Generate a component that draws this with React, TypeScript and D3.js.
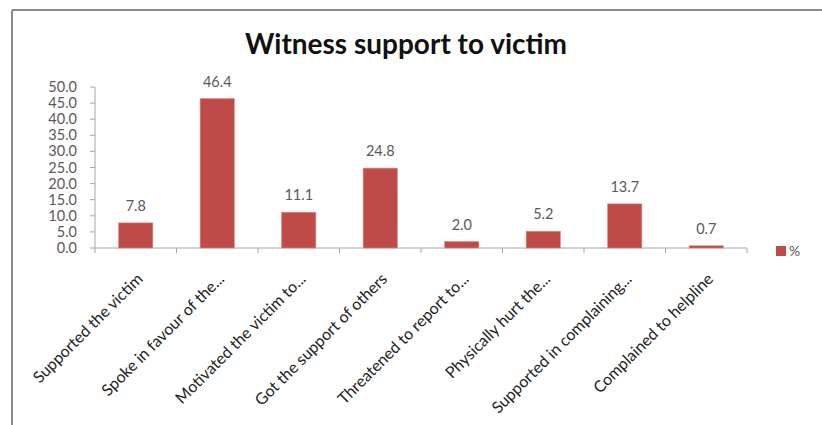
import React from "react";
import * as d3 from "d3";

const categories = [
  "Supported the victim",
  "Spoke in favour of the...",
  "Motivated the victim to...",
  "Got the support of others",
  "Threatened to report to...",
  "Physically hurt the...",
  "Supported in complaining...",
  "Complained to helpline",
];
const values = [7.8, 46.4, 11.1, 24.8, 2.0, 5.2, 13.7, 0.7];
const yTicks = [0, 5, 10, 15, 20, 25, 30, 35, 40, 45, 50];
const title = "Witness support to victim";
const seriesName = "%";

const FONT = "Lato, 'Open Sans', sans-serif";

export default function App() {
  const x0 = 95, x1 = 747, yTop = 87, yBase = 248;
  const x = d3.scaleBand<string>().domain(categories).range([x0, x1]).paddingInner(0.58).paddingOuter(0.29);
  const y = d3.scaleLinear().domain([0, 50]).range([yBase, yTop]);
  const step = x.step();
  const barColor = "#BE4B48";
  const grey = "#595959";
  return (
    <svg width={822} height={425} style={{ position: "absolute", left: 0, top: 0, background: "#fff" }} fontFamily={FONT}>
      <rect x={0} y={0} width={822} height={425} fill="#fff" />
      {/* frame */}
      <line x1={12} y1={10} x2={822} y2={10} stroke="#8c8c8c" strokeWidth={2} />
      <line x1={12} y1={10} x2={12} y2={425} stroke="#8c8c8c" strokeWidth={2} />
      <text x={406} y={54} textAnchor="middle" fontSize={28} fontWeight="bold" fill="#111">{title}</text>
      {/* y axis */}
      <line x1={x0} y1={yTop} x2={x0} y2={yBase} stroke="#a6a6a6" />
      {yTicks.map((t) => (
        <g key={t}>
          <line x1={x0 - 5} x2={x0} y1={y(t)} y2={y(t)} stroke="#a6a6a6" />
          <text x={77} y={y(t)} dy="0.35em" textAnchor="end" fontSize={14.5} fill={grey}>{t.toFixed(1)}</text>
        </g>
      ))}
      {/* x axis */}
      <line x1={x0} y1={yBase} x2={x1} y2={yBase} stroke="#a6a6a6" />
      {d3.range(categories.length + 1).map((i) => (
        <line key={i} x1={x0 + i * step} x2={x0 + i * step} y1={yBase} y2={yBase + 5} stroke="#a6a6a6" />
      ))}
      {categories.map((c, i) => {
        const cx = (x(c) as number) + x.bandwidth() / 2;
        return (
          <g key={c}>
            <rect x={x(c)} y={y(values[i])} width={x.bandwidth()} height={yBase - y(values[i])} fill={barColor} stroke="#d98a88" strokeWidth={0.6} />
            <text x={cx} y={y(values[i]) - 12} textAnchor="middle" fontSize={14.5} fill={grey}>{values[i].toFixed(1)}</text>
            <text transform={`translate(${cx + 8},${yBase + 32}) rotate(-45)`} textAnchor="end" fontSize={16} fill="#222">{c}</text>
          </g>
        );
      })}
      {/* legend */}
      <rect x={776} y={246} width={10} height={10} fill={barColor} />
      <text x={789} y={251} dy="0.35em" fontSize={14} fill={grey}>{seriesName}</text>
    </svg>
  );
}
